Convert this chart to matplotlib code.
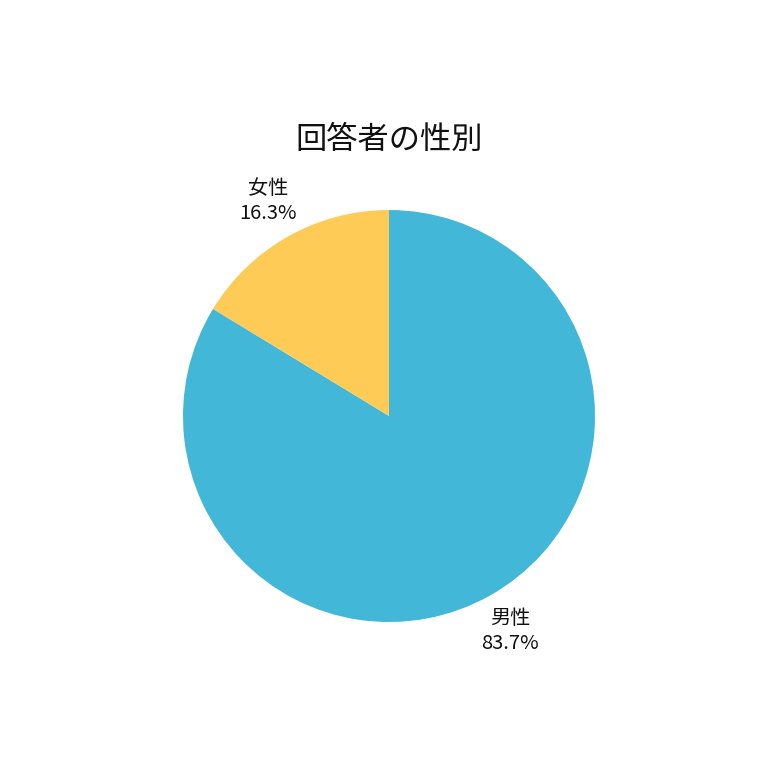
import matplotlib.pyplot as plt

plt.rcParams['font.family'] = ['Noto Sans CJK JP', 'DejaVu Sans']

labels = ['男性', '女性']
shares = [83.7, 16.3]
colors = ['#42B7D7', '#FFCB57']

fig = plt.figure(figsize=(7.8, 7.8), dpi=100)
cx, cy, r = 389 / 780, (780 - 416) / 780, 206 / 780
ax = fig.add_axes([cx - r, cy - r, 2 * r, 2 * r])

texts = [f'{l}\n{v:.1f}%' for l, v in zip(labels, shares)]
wedges, lbls = ax.pie(shares, labels=texts, colors=colors, startangle=90,
                      counterclock=False, labeldistance=1.2,
                      textprops={'fontsize': 14.5, 'ha': 'center',
                                 'va': 'center', 'color': '#111111',
                                 'linespacing': 1.25})
ax.set_xlim(-1, 1)
ax.set_ylim(-1, 1)
ax.set_aspect('equal')

fig.text(cx, (780 - 140) / 780, '回答者の性別', ha='center', va='center',
         fontsize=22.5, color='#111111')

fig.savefig('out.png', dpi=100)
